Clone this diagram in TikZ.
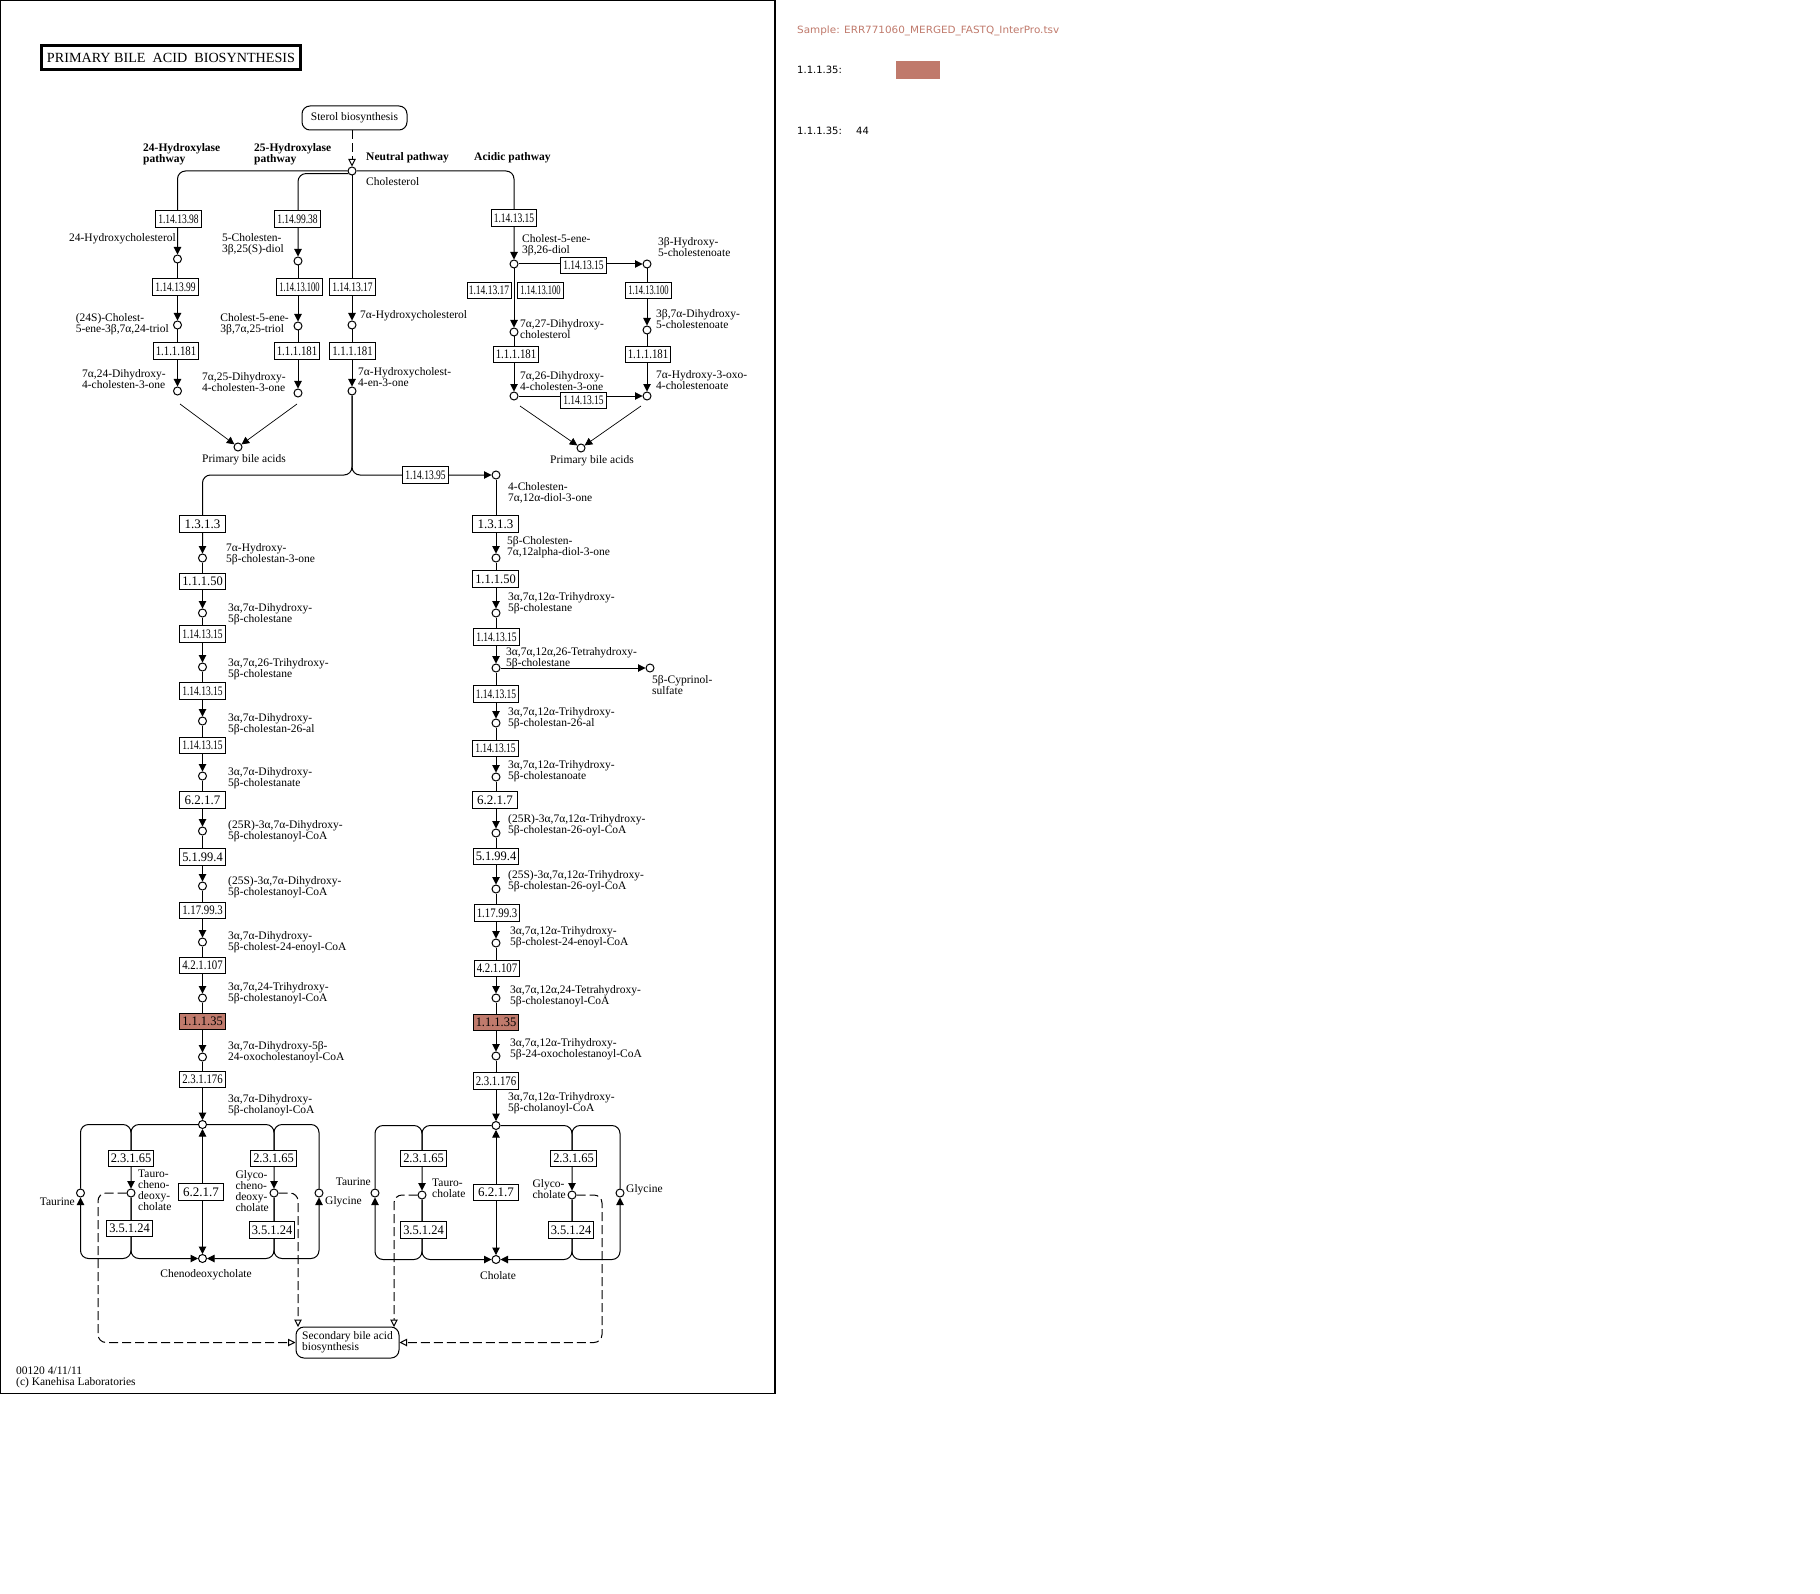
\documentclass[tikz,border=0pt]{standalone}
\usepackage{fontspec}
\usepackage{graphicx}
\setmainfont{Liberation Serif}
\newfontfamily\legfont{DejaVu Sans}
\usetikzlibrary{arrows.meta}
\definecolor{hit}{RGB}{192,122,108}
\newsavebox\ecsbox
\newcommand\ecl[1]{\sbox\ecsbox{#1}\ifdim\wd\ecsbox>40.5pt\resizebox{40.5pt}{\height}{#1}\else\usebox\ecsbox\fi}
\begin{document}
\begin{tikzpicture}[x=1pt,y=-1pt,
  ln/.style={line width=1pt},
  arr/.style={line width=1pt,-{Triangle[width=7.5pt,length=7.5pt]}},
  barr/.style={line width=1pt,{Triangle[width=7.5pt,length=7.5pt]}-{Triangle[width=7.5pt,length=7.5pt]}},
  tarr/.style={line width=0.7pt,-{Triangle[width=7.5pt,length=7.5pt]}},
  darr/.style={line width=1pt,dash pattern=on 9pt off 4pt,-{Triangle[open,width=7.5pt,length=7.5pt]}},
  rc/.style={rounded corners=8pt},
  cpd/.style={circle,draw,fill=white,line width=1pt,minimum size=8pt,inner sep=0pt},
  ecb/.style={draw,fill=white,line width=1pt,minimum width=45.5pt,minimum height=16.5pt,inner sep=0pt,font=\fontsize{13}{13}\selectfont},
  ecs/.style={ecb},
  hitb/.style={fill=hit},
  lb/.style={inner sep=0pt,anchor=north west,align=left,font=\fontsize{11.5}{11}\selectfont},
  lbr/.style={lb,anchor=north east},
  lbc/.style={lb,anchor=north,align=center},
  bl/.style={lb,font=\bfseries\fontsize{11.5}{11}\selectfont},
  mapbox/.style={draw,line width=1pt,rounded corners=8pt,inner sep=0pt,align=left,font=\fontsize{11.5}{11}\selectfont},
  leg/.style={inner sep=0pt,anchor=west,font=\legfont\fontsize{10}{12}\selectfont}
]
\fill[white] (0,0) rectangle (1820,1594);
\useasboundingbox (0,0) rectangle (1820,1594);
\draw[line width=1.2pt] (0.6,0.6) rectangle (775,1393.5);

% title
\node[draw,line width=3pt,minimum width=259pt,minimum height=24pt,inner sep=0pt] (title) at (171,57.5)
  {\resizebox{248pt}{\height}{\fontsize{14}{14}\selectfont PRIMARY BILE\ \ ACID\ \ BIOSYNTHESIS}};

% map links
\node[mapbox,minimum width=105pt,minimum height=24pt,align=center] (sterol) at (354.5,118) {Sterol biosynthesis};
\node[mapbox,minimum width=103pt,minimum height=31pt] (sec) at (347.5,1342.5) {Secondary bile acid\\biosynthesis};

% compounds
\node[cpd] (c0) at (352,171) {};
\node[cpd] (c24oh) at (177.5,259) {};
\node[cpd] (c24tri) at (177.5,325) {};
\node[cpd] (c24one) at (177.5,391) {};
\node[cpd] (c25diol) at (298,261) {};
\node[cpd] (c25tri) at (298,326) {};
\node[cpd] (c25one) at (298,393) {};
\node[cpd] (c7a) at (352,325) {};
\node[cpd] (c7aone) at (352,391) {};
\node[cpd] (pba1) at (238,447) {};
\node[cpd] (c26diol) at (514,264) {};
\node[cpd] (c3bh) at (647,264) {};
\node[cpd] (c27) at (514,332) {};
\node[cpd] (c37) at (647,330) {};
\node[cpd] (c26one) at (514,396) {};
\node[cpd] (c7oxo) at (647,396) {};
\node[cpd] (pba2) at (581,448) {};
\node[cpd] (c4ch) at (496,475) {};
\node[cpd] (cyp) at (650,668) {};

\foreach \n/\y in {1/558,2/613,3/667,4/721,5/776,6/831,7/886,8/942,9/998,10/1057}
  \node[cpd] (L\n) at (202.5,\y) {};
\foreach \n/\y in {1/558,2/613,3/668,4/723,5/777,6/833,7/889,8/943,9/998,10/1056}
  \node[cpd] (R\n) at (496,\y) {};
\node[cpd] (cc1) at (202.5,1124.5) {};
\node[cpd] (cc2) at (496,1125.5) {};

\node[cpd] (taur1) at (80.5,1193) {};
\node[cpd] (tcdca) at (131,1193) {};
\node[cpd] (gcdca) at (274,1193) {};
\node[cpd] (gly1) at (319,1193) {};
\node[cpd] (cdca) at (202.5,1258.5) {};
\node[cpd] (taur2) at (375,1193) {};
\node[cpd] (tca) at (422,1195) {};
\node[cpd] (gca) at (572,1195) {};
\node[cpd] (gly2) at (620,1193) {};
\node[cpd] (ca) at (496,1259.5) {};

\coordinate (j1) at (352,475);
\coordinate (p1a) at (180,404);
\coordinate (p1b) at (297,404);
\coordinate (p2a) at (520,406);
\coordinate (p2b) at (641,406);
\coordinate (s1) at (298,1327);
\coordinate (s2) at (394,1327);

% connectors, top
\draw[darr] (sterol.south -| c0) -- (c0);
\draw[arr,rc] (c0) -| (c24oh);
\draw[arr,rc] (c0.-145) -| (c25diol);
\draw[arr] (c0) -- (c7a);
\draw[arr,rc] (c0) -| (c26diol);
\draw[arr] (c24oh) -- (c24tri);
\draw[arr] (c24tri) -- (c24one);
\draw[arr] (c25diol) -- (c25tri);
\draw[arr] (c25tri) -- (c25one);
\draw[arr] (c7a) -- (c7aone);
\draw[tarr] (p1a) -- (pba1);
\draw[tarr] (p1b) -- (pba1);
\draw[arr] (c26diol) -- (c3bh);
\draw[arr] (c26diol) -- (c27);
\draw[arr] (c3bh) -- (c37);
\draw[arr] (c27) -- (c26one);
\draw[arr] (c37) -- (c7oxo);
\draw[arr] (c26one) -- (c7oxo);
\draw[tarr] (p2a) -- (pba2);
\draw[tarr] (p2b) -- (pba2);
\draw[arr,rc] (c7aone) -- (j1) -| (L1);
\draw[arr,rc] (c7aone) -- (j1) -- (c4ch);
\draw[arr] (c4ch) -- (R1);
\foreach \a/\b in {1/2,2/3,3/4,4/5,5/6,6/7,7/8,8/9,9/10} {
  \draw[arr] (L\a) -- (L\b);
  \draw[arr] (R\a) -- (R\b);
}
\draw[arr] (L10) -- (cc1);
\draw[arr] (R10) -- (cc2);
\draw[arr] (R3) -- (cyp);

% connectors, bottom left
\draw[arr,rc] (cc1) -| (tcdca);
\draw[ln,rc] (taur1) |- (131,1124.5) -- (131,1158);
\draw[arr,rc] (tcdca) |- (cdca);
\draw[arr,rc] (tcdca) -- (131,1258.5) -| (taur1);
\draw[arr,rc] (cc1) -| (gcdca);
\draw[ln,rc] (gly1) |- (274,1124.5) -- (274,1158);
\draw[arr,rc] (gcdca) |- (cdca);
\draw[arr,rc] (gcdca) -- (274,1258.5) -| (gly1);
\draw[barr] (cc1) -- (cdca);
% bottom right
\draw[arr,rc] (cc2) -| (tca);
\draw[ln,rc] (taur2) |- (422,1125.5) -- (422,1158);
\draw[arr,rc] (tca) |- (ca);
\draw[arr,rc] (tca) -- (422,1259.5) -| (taur2);
\draw[arr,rc] (cc2) -| (gca);
\draw[ln,rc] (gly2) |- (572,1125.5) -- (572,1158);
\draw[arr,rc] (gca) |- (ca);
\draw[arr,rc] (gca) -- (572,1259.5) -| (gly2);
\draw[barr] (cc2) -- (ca);
% dashed to secondary
\draw[darr,rc] (tcdca) -- (98,1193) |- (sec);
\draw[darr,rc] (gcdca) -| (s1);
\draw[darr,rc] (tca) -| (s2);
\draw[darr,rc] (gca) -- (602,1195) |- (sec);

% enzymes, top
\node[ecb] (e1) at (178.5,219) {\ecl{1.14.13.98}};
\node[ecb] (e2) at (297.5,219) {\ecl{1.14.99.38}};
\node[ecb] (e3) at (175.5,287) {\ecl{1.14.13.99}};
\node[ecb] (e4) at (299.5,287) {\ecl{1.14.13.100}};
\node[ecb] (e5) at (352.5,287) {\ecl{1.14.13.17}};
\node[ecb] (e6) at (176,351) {\ecl{1.1.1.181}};
\node[ecb] (e7) at (297,351) {\ecl{1.1.1.181}};
\node[ecb] (e8) at (352.5,351) {\ecl{1.1.1.181}};
\node[ecb] (e9) at (514,218) {\ecl{1.14.13.15}};
\node[ecb] (e10) at (583.5,265.5) {\ecl{1.14.13.15}};
\node[ecb,minimum width=44pt] (e11) at (489,290.5) {\ecl{1.14.13.17}};
\node[ecb] (e12) at (540.5,290.5) {\ecl{1.14.13.100}};
\node[ecb] (e13) at (648.5,290.5) {\ecl{1.14.13.100}};
\node[ecb] (e14) at (516,354.5) {\ecl{1.1.1.181}};
\node[ecb] (e15) at (648,354.5) {\ecl{1.1.1.181}};
\node[ecb] (e16) at (583.5,400.5) {\ecl{1.14.13.15}};
\node[ecb] (e17) at (425.5,475) {\ecl{1.14.13.95}};

% enzymes, left column
\node[ecs] (l1) at (202.5,524) {\ecl{1.3.1.3}};
\node[ecs] (l2) at (202.5,581.5) {\ecl{1.1.1.50}};
\node[ecb] (l3) at (202.5,634) {\ecl{1.14.13.15}};
\node[ecb] (l4) at (202.5,691) {\ecl{1.14.13.15}};
\node[ecb] (l5) at (202.5,745.5) {\ecl{1.14.13.15}};
\node[ecs] (l6) at (202.5,800) {\ecl{6.2.1.7}};
\node[ecs] (l7) at (202.5,857) {\ecl{5.1.99.4}};
\node[ecb] (l8) at (202.5,910.5) {\ecl{1.17.99.3}};
\node[ecb] (l9) at (202.5,965.5) {\ecl{4.2.1.107}};
\node[ecs,hitb] (l10) at (202.5,1021.5) {\ecl{1.1.1.35}};
\node[ecb] (l11) at (202.5,1079.5) {\ecl{2.3.1.176}};
% enzymes, right column
\node[ecs] (r1) at (495.5,524) {\ecl{1.3.1.3}};
\node[ecs] (r2) at (495.5,579) {\ecl{1.1.1.50}};
\node[ecb] (r3) at (496.5,637) {\ecl{1.14.13.15}};
\node[ecb] (r4) at (496,694) {\ecl{1.14.13.15}};
\node[ecb] (r5) at (495.5,748.5) {\ecl{1.14.13.15}};
\node[ecs] (r6) at (495,800) {\ecl{6.2.1.7}};
\node[ecs] (r7) at (496,856.5) {\ecl{5.1.99.4}};
\node[ecb] (r8) at (497,913) {\ecl{1.17.99.3}};
\node[ecb] (r9) at (497,968.5) {\ecl{4.2.1.107}};
\node[ecs,hitb] (r10) at (496,1022.5) {\ecl{1.1.1.35}};
\node[ecb] (r11) at (496,1081) {\ecl{2.3.1.176}};
% enzymes, bottom
\node[ecs] (b1) at (131,1158.5) {\ecl{2.3.1.65}};
\node[ecs] (b2) at (129.5,1228.5) {\ecl{3.5.1.24}};
\node[ecs] (b3) at (201,1192) {\ecl{6.2.1.7}};
\node[ecs] (b4) at (273.5,1158.5) {\ecl{2.3.1.65}};
\node[ecs] (b5) at (272,1230) {\ecl{3.5.1.24}};
\node[ecs] (b6) at (423.5,1158.5) {\ecl{2.3.1.65}};
\node[ecs] (b7) at (423.5,1230) {\ecl{3.5.1.24}};
\node[ecs] (b8) at (496,1192.5) {\ecl{6.2.1.7}};
\node[ecs] (b9) at (573.5,1158.5) {\ecl{2.3.1.65}};
\node[ecs] (b10) at (571,1230) {\ecl{3.5.1.24}};

% labels, top
\node[bl] (t1) at (143,143) {24-Hydroxylase\\pathway};
\node[bl] (t2) at (254,143) {25-Hydroxylase\\pathway};
\node[bl] (t3) at (366,152) {Neutral pathway};
\node[bl] (t4) at (474,152) {Acidic pathway};
\node[lb] (n0) at (366,177) {Cholesterol};
\node[lbr] (n1) at (176,233) {24-Hydroxycholesterol};
\node[lbr] (n2) at (169,313) {(24S)-Cholest-\\5-ene-3β,7α,24-triol};
\node[lbr] (n3) at (166,369) {7α,24-Dihydroxy-\\4-cholesten-3-one};
\node[lbr] (n4) at (284,233) {5-Cholesten-\\3β,25(S)-diol};
\node[lbr] (n5) at (289,313) {Cholest-5-ene-\\3β,7α,25-triol};
\node[lbr] (n6) at (286,372) {7α,25-Dihydroxy-\\4-cholesten-3-one};
\node[lb] (n7) at (360,310) {7α-Hydroxycholesterol};
\node[lb] (n8) at (358,367) {7α-Hydroxycholest-\\4-en-3-one};
\node[lbc] (n9) at (244,454) {Primary bile acids};
\node[lb] (n10) at (522,234) {Cholest-5-ene-\\3β,26-diol};
\node[lb] (n11) at (658,237) {3β-Hydroxy-\\5-cholestenoate};
\node[lb] (n12) at (520,319) {7α,27-Dihydroxy-\\cholesterol};
\node[lb] (n13) at (656,309) {3β,7α-Dihydroxy-\\5-cholestenoate};
\node[lb] (n14) at (520,371) {7α,26-Dihydroxy-\\4-cholesten-3-one};
\node[lb] (n15) at (656,370) {7α-Hydroxy-3-oxo-\\4-cholestenoate};
\node[lbc] (n16) at (592,455) {Primary bile acids};
\node[lb] (n17) at (508,482) {4-Cholesten-\\7α,12α-diol-3-one};
% labels, left column
\node[lb] at (226,543) {7α-Hydroxy-\\5β-cholestan-3-one};
\node[lb] at (228,603) {3α,7α-Dihydroxy-\\5β-cholestane};
\node[lb] at (228,658) {3α,7α,26-Trihydroxy-\\5β-cholestane};
\node[lb] at (228,713) {3α,7α-Dihydroxy-\\5β-cholestan-26-al};
\node[lb] at (228,767) {3α,7α-Dihydroxy-\\5β-cholestanate};
\node[lb] at (228,820) {(25R)-3α,7α-Dihydroxy-\\5β-cholestanoyl-CoA};
\node[lb] at (228,876) {(25S)-3α,7α-Dihydroxy-\\5β-cholestanoyl-CoA};
\node[lb] at (228,931) {3α,7α-Dihydroxy-\\5β-cholest-24-enoyl-CoA};
\node[lb] at (228,982) {3α,7α,24-Trihydroxy-\\5β-cholestanoyl-CoA};
\node[lb] at (228,1041) {3α,7α-Dihydroxy-5β-\\24-oxocholestanoyl-CoA};
\node[lb] at (228,1094) {3α,7α-Dihydroxy-\\5β-cholanoyl-CoA};
% labels, right column
\node[lb] at (507,536) {5β-Cholesten-\\7α,12alpha-diol-3-one};
\node[lb] at (508,592) {3α,7α,12α-Trihydroxy-\\5β-cholestane};
\node[lb] at (506,647) {3α,7α,12α,26-Tetrahydroxy-\\5β-cholestane};
\node[lb] at (652,675) {5β-Cyprinol-\\sulfate};
\node[lb] at (508,707) {3α,7α,12α-Trihydroxy-\\5β-cholestan-26-al};
\node[lb] at (508,760) {3α,7α,12α-Trihydroxy-\\5β-cholestanoate};
\node[lb] at (508,814) {(25R)-3α,7α,12α-Trihydroxy-\\5β-cholestan-26-oyl-CoA};
\node[lb] at (508,870) {(25S)-3α,7α,12α-Trihydroxy-\\5β-cholestan-26-oyl-CoA};
\node[lb] at (510,926) {3α,7α,12α-Trihydroxy-\\5β-cholest-24-enoyl-CoA};
\node[lb] at (510,985) {3α,7α,12α,24-Tetrahydroxy-\\5β-cholestanoyl-CoA};
\node[lb] at (510,1038) {3α,7α,12α-Trihydroxy-\\5β-24-oxocholestanoyl-CoA};
\node[lb] at (508,1092) {3α,7α,12α-Trihydroxy-\\5β-cholanoyl-CoA};
% labels, bottom
\node[lbr] at (75,1198) {Taurine};
\node[lb] at (138,1170) {Tauro-\\cheno-\\deoxy-\\cholate};
\node[lbr] at (269,1170) {Glyco-\\cheno-\\deoxy-\\cholate};
\node[lb] at (325,1196) {Glycine};
\node[lbc] at (206,1269) {Chenodeoxycholate};
\node[lbr] at (371,1178) {Taurine};
\node[lb] at (432,1179) {Tauro-\\cholate};
\node[lbr] at (566,1179) {Glyco-\\cholate};
\node[lb] at (626,1184) {Glycine};
\node[lbc] at (498,1271) {Cholate};
\node[lb] at (16,1367) {00120 4/11/11\\(c) Kanehisa Laboratories};

% legend
\node[leg,text=hit] (lg1) at (797,31) {\resizebox{262pt}{\height}{Sample: ERR771060\_MERGED\_FASTQ\_InterPro.tsv}};
\node[leg] (lg2) at (797,70) {1.1.1.35:};
\node[fill=hit,minimum width=44pt,minimum height=18pt,inner sep=0pt] (lg3) at (918,70) {};
\node[leg] (lg4) at (797,131) {1.1.1.35:};
\node[leg] (lg5) at (856,131) {44};
\end{tikzpicture}
\end{document}
